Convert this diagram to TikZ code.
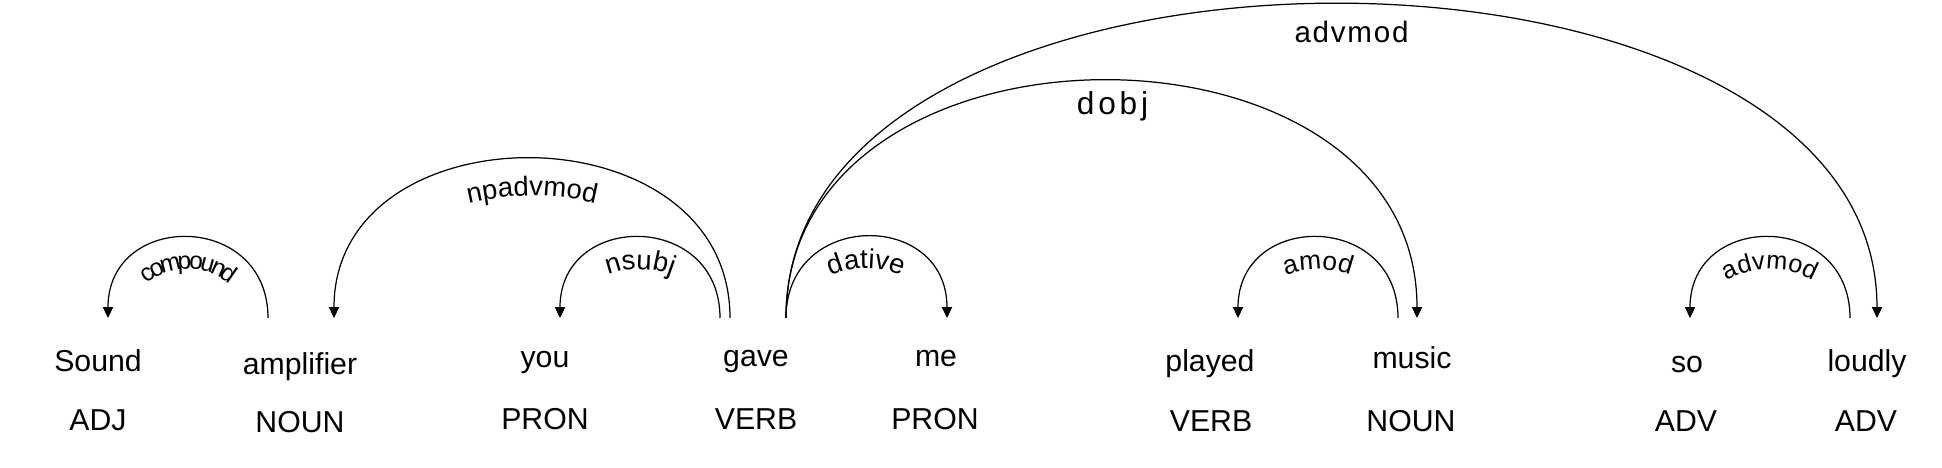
\documentclass[tikz,border=0pt]{standalone}
\usepackage{fontspec}
\setmainfont{Liberation Sans}
\usetikzlibrary{arrows.meta,decorations.text}

\newcommand{\wordfont}{\fontsize{8.6}{10}\selectfont}
\newcommand{\dobjfont}{\fontsize{9}{10}\selectfont\addfontfeature{LetterSpace=12}}
\newcommand{\topfont}{\fontsize{8.4}{10}\selectfont\addfontfeature{LetterSpace=6}}

\begin{document}
\begin{tikzpicture}[x=0.01cm, y=-0.01cm, >={Triangle[length=3.1pt,width=2.9pt]}, line width=0.35pt,
    word/.style={anchor=base, inner sep=0pt, font=\wordfont},
    arch/.style={to path={.. controls +(0,-#1) and +(0,-#1) .. (\tikztotarget) \tikztonodes}},
    curved label/.style n args={3}{decorate, decoration={text along path, text align=center, raise=#3, text={|\fontsize{#2}{10}\selectfont|#1}}}]
                \useasboundingbox (0,0) rectangle (1942,468);

                % words and tags
                \node [word](1) at (98,372){Sound};
                \node [word](2) at (300,375){amplifier};
                \node [word](3) at (545,368){you};
                \node [word](4) at (756,367){gave};
                \node [word](5) at (936,367){me};
                \node [word](6) at (1210,372){played};
                \node [word](7) at (1412,369){music};
                \node [word](8) at (1687,373){so};
                \node [word](9) at (1867,372){loudly};

                \node [word](11) at (98,431){ADJ};
                \node [word](12) at (300,433){NOUN};
                \node [word](13) at (545,430){PRON};
                \node [word](14) at (756,430){VERB};
                \node [word](15) at (935,430){PRON};
                \node [word](16) at (1211,432){VERB};
                \node [word](17) at (1411,432){NOUN};
                \node [word](18) at (1686,432){ADV};
                \node [word](19) at (1866,432){ADV};

                % arc feet above the words
                \coordinate (1i) at (108,318);
                \coordinate (2o) at (268,318);
                \coordinate (2i) at (334,318);
                \coordinate (3i) at (560,318);
                \coordinate (4a) at (720,318);
                \coordinate (4b) at (730,318);
                \coordinate (4c) at (786,318);
                \coordinate (5i) at (947,318);
                \coordinate (6i) at (1238,318);
                \coordinate (7o) at (1398,318);
                \coordinate (7i) at (1417,318);
                \coordinate (8i) at (1690,318);
                \coordinate (9o) at (1850,318);
                \coordinate (9i) at (1877,318);

                \path
                    (1i) edge[<-, arch=107] (2o)
                    (2i) edge[<-, arch=212] (4b)
                    (3i) edge[<-, arch=107] (4a)
                    (4c) edge[->, arch=108] (5i)
                    (4c) edge[->, arch=316] node[pos=0.5, anchor=base, yshift=-3.3mm, xshift=1.1mm, font=\dobjfont]{dobj} (7i)
                    (4c) edge[->, arch=418] node[pos=0.5, anchor=base, yshift=-3.8mm, xshift=2mm, font=\topfont]{advmod} (9i)
                    (6i) edge[<-, arch=107] (7o)
                    (8i) edge[<-, arch=107] (9o)
                    ;

                % labels follow the arcs, a little below them
                \begin{scope}[transform canvas={yshift=-3.15mm}]
                    \path[curved label={nsubj}{7.8}{0pt}] (3i) to[arch=107] (4a);
                    \path[curved label={dative}{7.8}{0pt}] (4c) to[arch=108] (5i);
                    \path[curved label={amod}{7.5}{0pt}] (6i) to[arch=107] (7o);
                    \path[curved label={advmod}{7.2}{0pt}] (8i) to[arch=107] (9o);
                \end{scope}
                \begin{scope}[transform canvas={yshift=-1.15mm}]
                    \path[curved label={compound}{7}{-2mm}] (1i) to[arch=107] (2o);
                \end{scope}
                \begin{scope}[transform canvas={yshift=-3.7mm}]
                    \path[curved label={npadvmod}{7.8}{0pt}] (2i) to[arch=212] (4b);
                \end{scope}
\end{tikzpicture}
\end{document}
